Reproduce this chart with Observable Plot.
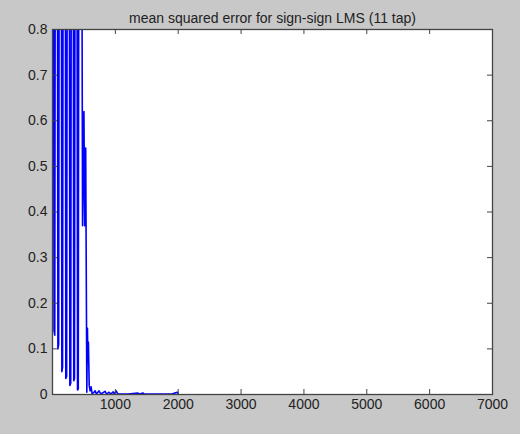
<!DOCTYPE html>
<html><head><meta charset="utf-8">
<script src="https://cdn.jsdelivr.net/npm/d3@7"></script>
<script src="https://cdn.jsdelivr.net/npm/@observablehq/plot@0.6"></script>
<style>body{margin:0;background:#c8c8c8;}</style>
</head><body><div id="chart"></div>
<script>
const title = "mean squared error for sign-sign LMS (11 tap)";
const sampleIndex = [1, 24, 36, 61, 86, 98, 124, 149, 160, 188, 212, 225, 252, 276, 290, 316, 338, 350, 375, 398, 410, 434,
  478, 500, 512, 528, 546, 556, 563, 571, 584, 598, 614, 630, 655, 678, 700, 740, 770, 837, 860, 900, 930, 965, 985, 1013, 1040,
  1200, 1360, 1380, 1443, 1460, 1900, 1985, 2000];
const mseValues = [3.0, 0.14, 0.13, 3.0, 0.10, 0.11, 3.0, 0.05, 0.06, 3.0, 0.035, 0.04, 3.0, 0.02, 0.025, 3.0, 0.03, 0.035, 3.0, 0.01, 0.012, 3.0,
  0.37, 0.62, 0.37, 0.54, 0.005, 0.145, 0.07, 0.115, 0.02, 0.008, 0.017, 0.002, 0.004, 0.008, 0.001, 0.008, 0.001, 0.007, 0.001, 0.005, 0.001, 0.006, 0.001, 0.008, 0.001,
  0.001, 0.003, 0.001, 0.003, 0.001, 0.001, 0.005, 0.001];
const xTicks = [1000, 2000, 3000, 4000, 5000, 6000, 7000];
const yTicks = [0, 0.1, 0.2, 0.3, 0.4, 0.5, 0.6, 0.7, 0.8];

const data = sampleIndex.map((x, i) => ({x, y: mseValues[i]}));
const W = 520, H = 434, mL = 52, mR = 28, mT = 29, mB = 40;
const pw = W - mL - mR, ph = H - mT - mB;
const axisColor = "#444";
const chart = Plot.plot({
  width: W, height: H, marginLeft: mL, marginRight: mR, marginTop: mT, marginBottom: mB,
  style: {background: "#c8c8c8", fontFamily: "'Liberation Sans', Arial, sans-serif", fontSize: "14px", color: "#222"},
  x: {domain: [0, 7000]},
  y: {domain: [0, 0.8]},
  marks: [
    Plot.frame({fill: "white"}),
    Plot.line(data, {x: "x", y: "y", stroke: "#0000ff", strokeWidth: 1.6, clip: true}),
    Plot.tickX(xTicks, {x: d => d, insetTop: ph - 5, stroke: axisColor}),
    Plot.tickX(xTicks, {x: d => d, insetBottom: ph - 5, stroke: axisColor}),
    Plot.tickY(yTicks, {y: d => d, insetRight: pw - 5, stroke: axisColor}),
    Plot.tickY(yTicks, {y: d => d, insetLeft: pw - 5, stroke: axisColor}),
    Plot.frame({stroke: axisColor, strokeWidth: 1.3}),
    Plot.axisX(xTicks, {tickSize: 0, tickPadding: 5, tickFormat: d => String(d), label: null, fontSize: 14}),
    Plot.axisY(yTicks, {tickSize: 0, tickPadding: 5, tickFormat: d => String(d), label: null, fontSize: 14}),
    Plot.text([title], {text: d => d, frameAnchor: "top", dy: -16, fontSize: 14, fill: "#222"})
  ]
});
document.getElementById("chart").appendChild(chart);
</script>
</body></html>
